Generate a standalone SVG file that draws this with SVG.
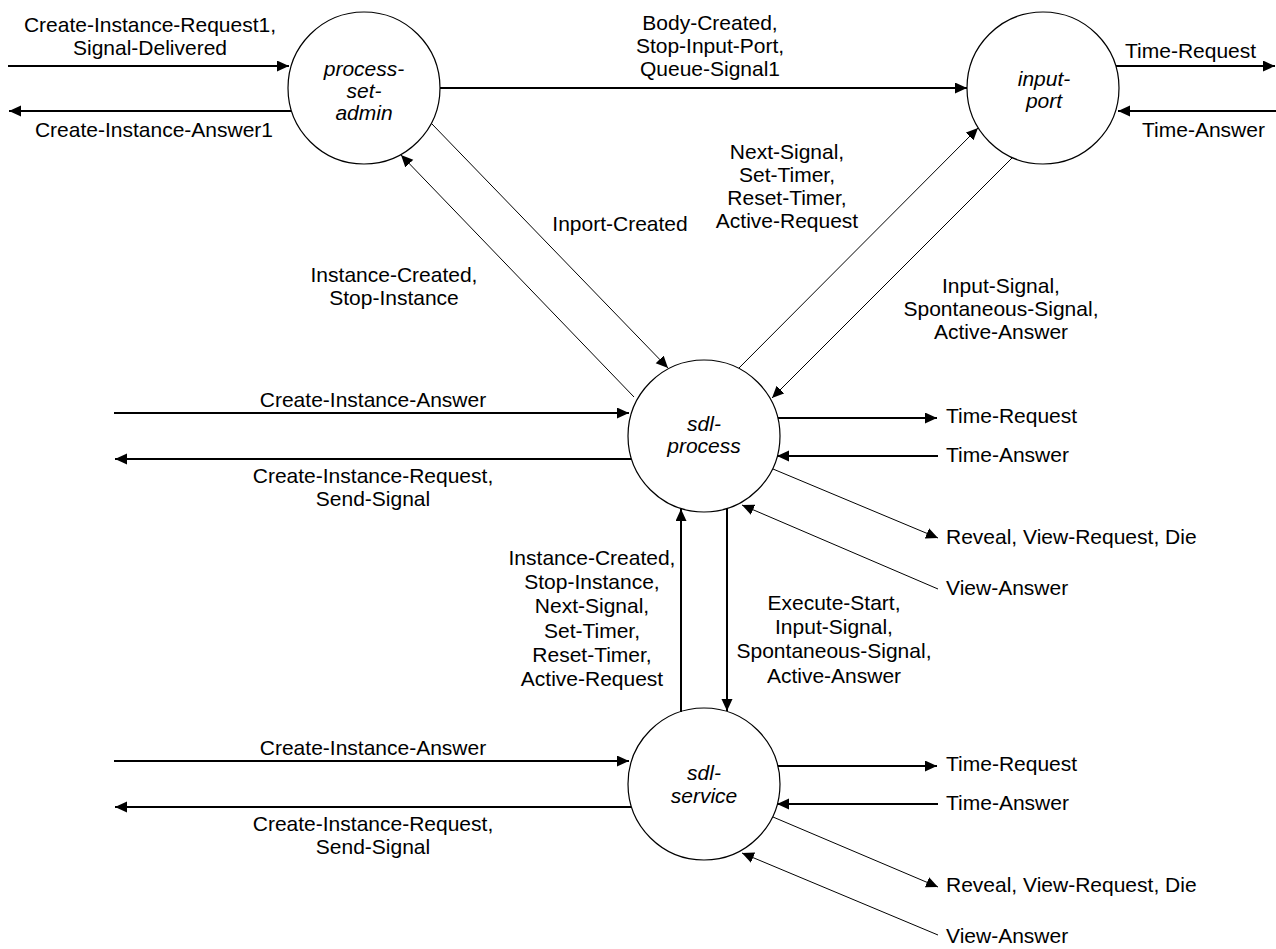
<svg xmlns="http://www.w3.org/2000/svg" width="1276" height="949" viewBox="0 0 1276 949">
<style>
text{font-family:"Liberation Sans",Arial,sans-serif;font-size:21px;fill:#000}
.m{text-anchor:middle}
.nl{font-style:italic;text-anchor:middle}
.node circle{fill:#fff;stroke:#000;stroke-width:1.2}
.thick{stroke:#000;stroke-width:2;fill:none;marker-end:url(#ah)}
.thin{stroke:#000;stroke-width:1;fill:none;marker-end:url(#ah)}
</style>
<defs>
<marker id="ah" markerUnits="userSpaceOnUse" markerWidth="13" markerHeight="12" refX="12" refY="5.5" orient="auto" viewBox="0 0 13 12"><path d="M0,0 L12,5.5 L0,11 z" fill="#000"/></marker>
</defs>
<rect width="1276" height="949" fill="#fff"/>
<g id="process-set-admin" class="node"><circle cx="364" cy="88" r="76"/><text class="nl" x="364" y="76">process-</text><text class="nl" x="364" y="98">set-</text><text class="nl" x="364" y="120">admin</text></g>
<g id="input-port" class="node"><circle cx="1043" cy="88" r="76"/><text class="nl" x="1044" y="86">input-</text><text class="nl" x="1044" y="108">port</text></g>
<g id="sdl-process" class="node"><circle cx="704" cy="436" r="76"/><text class="nl" x="704" y="431">sdl-</text><text class="nl" x="704" y="453">process</text></g>
<g id="sdl-service" class="node"><circle cx="704" cy="784" r="76"/><text class="nl" x="704" y="780">sdl-</text><text class="nl" x="704" y="803">service</text></g>
<g id="connectors">
<path class="thick" d="M8,66 H289"/>
<path class="thick" d="M291,111 H9"/>
<path class="thick" d="M440,88 H967"/>
<path class="thick" d="M1116,66 H1275"/>
<path class="thick" d="M1276,111 H1118"/>
<path class="thin" d="M432,124 L668,368"/>
<path class="thin" d="M634,397 L401,155"/>
<path class="thin" d="M739,368 L978,128"/>
<path class="thin" d="M1012,158 L772,398"/>
<path class="thick" d="M114,413 H629"/>
<path class="thick" d="M631,459 H115"/>
<path class="thick" d="M778,418 H937"/>
<path class="thick" d="M938,456 H777"/>
<path class="thin" d="M773,469 L938,538"/>
<path class="thin" d="M938,589 L742,505"/>
<path class="thick" d="M681,712 V509"/>
<path class="thick" d="M727,508 V711"/>
<path class="thick" d="M114,761 H629"/>
<path class="thick" d="M631,807 H115"/>
<path class="thick" d="M778,766 H937"/>
<path class="thick" d="M938,804 H777"/>
<path class="thin" d="M773,817 L938,887"/>
<path class="thin" d="M938,935 L742,853"/>
</g>
<g id="labels">
<text class="m" x="150" y="32">Create-Instance-Request1,</text>
<text class="m" x="150" y="55">Signal-Delivered</text>
<text class="m" x="154" y="137">Create-Instance-Answer1</text>
<text class="m" x="710" y="30">Body-Created,</text>
<text class="m" x="710" y="53">Stop-Input-Port,</text>
<text class="m" x="710" y="76">Queue-Signal1</text>
<text x="1125" y="58">Time-Request</text>
<text x="1142" y="137">Time-Answer</text>
<text class="m" x="620" y="231">Inport-Created</text>
<text class="m" x="394" y="282">Instance-Created,</text>
<text class="m" x="394" y="305">Stop-Instance</text>
<text class="m" x="787" y="159">Next-Signal,</text>
<text class="m" x="787" y="182">Set-Timer,</text>
<text class="m" x="787" y="205">Reset-Timer,</text>
<text class="m" x="787" y="228">Active-Request</text>
<text class="m" x="1001" y="293">Input-Signal,</text>
<text class="m" x="1001" y="316">Spontaneous-Signal,</text>
<text class="m" x="1001" y="339">Active-Answer</text>
<text class="m" x="373" y="407">Create-Instance-Answer</text>
<text class="m" x="373" y="483">Create-Instance-Request,</text>
<text class="m" x="373" y="506">Send-Signal</text>
<text x="946" y="423">Time-Request</text>
<text x="946" y="462">Time-Answer</text>
<text x="946" y="544">Reveal, View-Request, Die</text>
<text x="946" y="595">View-Answer</text>
<text class="m" x="592" y="565">Instance-Created,</text>
<text class="m" x="592" y="589">Stop-Instance,</text>
<text class="m" x="592" y="613">Next-Signal,</text>
<text class="m" x="592" y="638">Set-Timer,</text>
<text class="m" x="592" y="662">Reset-Timer,</text>
<text class="m" x="592" y="686">Active-Request</text>
<text class="m" x="834" y="610">Execute-Start,</text>
<text class="m" x="834" y="634">Input-Signal,</text>
<text class="m" x="834" y="658">Spontaneous-Signal,</text>
<text class="m" x="834" y="683">Active-Answer</text>
<text class="m" x="373" y="755">Create-Instance-Answer</text>
<text class="m" x="373" y="831">Create-Instance-Request,</text>
<text class="m" x="373" y="854">Send-Signal</text>
<text x="946" y="771">Time-Request</text>
<text x="946" y="810">Time-Answer</text>
<text x="946" y="892">Reveal, View-Request, Die</text>
<text x="946" y="943">View-Answer</text>
</g>
</svg>
